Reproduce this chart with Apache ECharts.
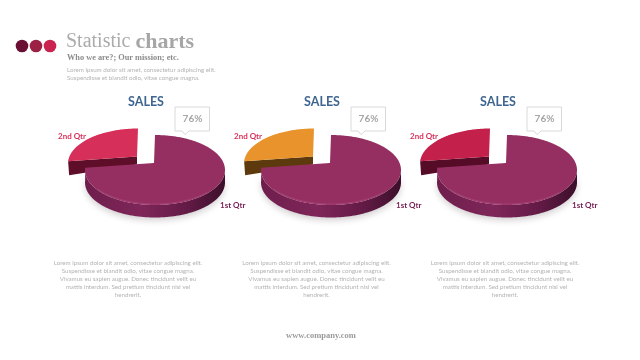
<!DOCTYPE html>
<html>
<head>
<meta charset="utf-8">
<style>
    html, body { margin: 0; padding: 0; background: #fff; }
    #chart { width: 640px; height: 360px; }
</style>
<script src="https://cdn.jsdelivr.net/npm/echarts@6/dist/echarts.min.js"></script>
</head>
<body>
<div id="chart"></div>
<script>
// data
const categories = ['1st Qtr', '2nd Qtr']
const salesLeft = [76, 24]
const salesMiddle = [76, 24]
const salesRight = [76, 24]
const chartTitle = 'SALES'

const titleLight = 'Statistic '
const titleBold = 'charts'
const subtitle = 'Who we are?; Our mission; etc.'
const introLines = [
    'Lorem ipsum dolor sit amet, consectetur adipiscing elit.',
    'Suspendisse et blandit odio, vitae congue magna.'
]
const bodyLines = [
    'Lorem ipsum dolor sit amet, consectetur adipiscing elit.',
    'Suspendisse et blandit odio, vitae congue magna.',
    'Vivamus eu sapien augue. Donec tincidunt velit eu',
    'mattis interdum. Sed pretium tincidunt nisl vel',
    'hendrerit.'
]
const footer = 'www.company.com'

const SANS = 'Lato, sans-serif'
const SERIF = '"Liberation Serif", serif'

// ellipse point, angle in degrees clockwise from 12 o'clock
function pt(cx, cy, rx, ry, deg) {
    const a = deg * Math.PI / 180
    return [cx + rx * Math.sin(a), cy - ry * Math.cos(a)]
}
function arc(cx, cy, rx, ry, from, to) {
    const out = []
    for (let d = from; d < to; d += 1) out.push(pt(cx, cy, rx, ry, d))
    out.push(pt(cx, cy, rx, ry, to))
    return out
}

function pieSeries(values, cx, wedgeColor, wedgeWall, pct) {
    const cy = 170, rx = 70, ry = 35, depth = 12.5
    const total = values.reduce((a, b) => a + b, 0)
    return {
        type: 'custom',
        coordinateSystem: 'none',
        silent: true,
        data: values.map((v, i) => [v, i]),
        renderItem: function (params, api) {
            const idx = api.value(1)
            const sweep = api.value(0) / total * 360
            if (idx === 0) {
                // big slice, starts at 12 o'clock
                const end = sweep
                const front = arc(cx, cy, rx, ry, 90, end)
                const wall = front.concat(front.map(p => [p[0], p[1] + depth]).reverse())
                const top = [[cx - 1, cy - 7]].concat(arc(cx, cy, rx, ry, 0, end))
                const rim = arc(cx, cy, rx - 1, ry - 1, 130, 235)
                return {
                    type: 'group',
                    children: [
                        {
                            type: 'polygon', z2: 10, shape: { points: wall },
                            style: {
                                fill: new echarts.graphic.LinearGradient(0, 0, 1, 0, [
                                    { offset: 0, color: '#6e1e4c' },
                                    { offset: 0.4, color: '#7f2659' },
                                    { offset: 0.72, color: '#641b46' },
                                    { offset: 1, color: '#3c0f2b' }
                                ]),
                                shadowColor: 'rgba(60,40,50,0.22)', shadowBlur: 6, shadowOffsetY: 3
                            }
                        },
                        { type: 'polygon', z2: 11, shape: { points: top }, style: { fill: '#952f61' } },
                        { type: 'polyline', z2: 12, shape: { points: rim }, style: { stroke: '#ad4a7e', lineWidth: 1, fill: null, opacity: 0.7 } },
                        { type: 'text', z2: 13, style: { text: categories[0], x: cx + 65, y: 205, fill: '#7a2358', font: 'bold 8px ' + SANS, textVerticalAlign: 'middle' } },
                        // callout box
                        {
                            type: 'polygon', z2: 13,
                            shape: { points: [[cx + 20, 107], [cx + 54.5, 107], [cx + 54.5, 131], [cx + 34, 131], [cx + 30, 134.5], [cx + 27, 131], [cx + 20, 131]] },
                            style: { fill: '#fff', stroke: '#d9d9d9', lineWidth: 1 }
                        },
                        { type: 'text', z2: 14, style: { text: pct, x: cx + 37.5, y: 118.5, fill: '#a6a6a6', font: 'bold 10px ' + SANS, textAlign: 'center', textVerticalAlign: 'middle' } },
                        { type: 'text', z2: 14, style: { text: chartTitle, x: cx - 9, y: 102, fill: '#3f6690', font: 'bold 12.5px ' + SANS, textAlign: 'center', textVerticalAlign: 'middle' } }
                    ]
                }
            }
            // pulled out slice, sits behind the big one
            const ox = cx - 17, oy = cy - 6.5
            const start = 360 - sweep
            const left = pt(ox, oy, rx, ry, start)
            const apex = [ox - 1, oy - 7]
            const cut = [left, apex, [apex[0], apex[1] + 8], [left[0] + 1, left[1] + 14]]
            return {
                type: 'group',
                children: [
                    { type: 'polygon', z2: 1, shape: { points: cut }, style: { fill: wedgeWall } },
                    { type: 'polygon', z2: 2, shape: { points: [apex].concat(arc(ox, oy, rx, ry, start, 360)) }, style: { fill: wedgeColor } },
                    { type: 'text', z2: 3, style: { text: categories[1], x: cx - 97, y: 136, fill: '#d9315c', font: 'bold 8px ' + SANS, textVerticalAlign: 'middle' } }
                ]
            }
        }
    }
}

function pctText(values) {
    return Math.round(values[0] / (values[0] + values[1]) * 100) + '%'
}

const graphics = []
;[['#6a0f33', 22], ['#9c1f44', 36], ['#c9234f', 50]].forEach(d => {
    graphics.push({ type: 'circle', shape: { cx: d[1], cy: 46, r: 6.3 }, style: { fill: d[0] } })
})
graphics.push({
    type: 'text', left: 66, top: 31,
    style: {
        text: '{a|' + titleLight + '}{b|' + titleBold + '}',
        rich: {
            a: { font: '20px ' + SERIF, fill: '#ababab' },
            b: { font: 'bold 22px ' + SERIF, fill: '#a6a6a6' }
        }
    }
})
graphics.push({ type: 'text', left: 67, top: 54, style: { text: subtitle, font: 'bold 8.3px ' + SERIF, fill: '#8c8c8c' } })
introLines.forEach((t, i) => {
    graphics.push({ type: 'text', left: 67, top: 67.5 + i * 7.5, style: { text: t, font: '6.2px ' + SANS, fill: '#b3b3b3' } })
})
;[128, 316.5, 505].forEach(x => {
    bodyLines.forEach((t, i) => {
        graphics.push({ type: 'text', x: x, y: 263 + i * 8, style: { text: t, font: '6.2px ' + SANS, fill: '#b3b3b3', textAlign: 'center', textVerticalAlign: 'middle' } })
    })
})
graphics.push({ type: 'text', x: 321, y: 336, style: { text: footer, font: 'bold 8.5px ' + SERIF, fill: '#9a9a9a', textAlign: 'center', textVerticalAlign: 'middle' } })

const chart = echarts.init(document.getElementById('chart'))
chart.setOption({
    backgroundColor: '#ffffff',
    animation: false,
    graphic: graphics,
    series: [
        pieSeries(salesLeft, 155, '#d6305a', '#5e0e28', pctText(salesLeft)),
        pieSeries(salesMiddle, 331, '#e8932c', '#5d3a0d', pctText(salesMiddle)),
        pieSeries(salesRight, 507, '#c4204c', '#560b26', pctText(salesRight))
    ]
})
</script>
</body>
</html>
